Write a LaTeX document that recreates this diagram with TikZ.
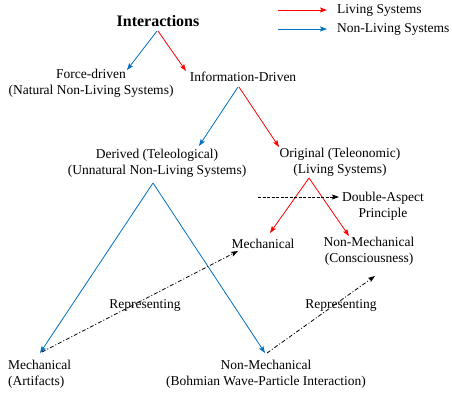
\documentclass[tikz,border=0pt]{standalone}
\usepackage{fontspec}
\setmainfont{Liberation Serif}
\usetikzlibrary{arrows.meta,calc}
\definecolor{lred}{RGB}{255,0,0}
\definecolor{lblue}{RGB}{0,112,192}
\begin{document}
\begin{tikzpicture}[x=1pt,y=-1pt,
  lbl/.style={font=\fontsize{13.5}{16}\selectfont, align=center, inner sep=0pt},
  tip/.style={-{Stealth[length=7pt,width=5pt,inset=1.5pt]}},
  liv/.style={tip, lred, line width=0.8pt},
  nonliv/.style={tip, lblue, line width=0.8pt},
  rep/.style={tip, black, line width=0.8pt, dash pattern=on 4pt off 2pt on 1pt off 2pt},
  aspect/.style={tip, black, line width=0.7pt, dash pattern=on 3pt off 1.5pt}]
\useasboundingbox (0,0) rectangle (452,396);
% nodes
\node[lbl, font=\fontsize{16}{19}\selectfont\bfseries] (inter) at (158,21) {Interactions};
\node[lbl] (force) at (91,83) {Force-driven\\(Natural Non-Living Systems)};
\node[lbl] (info) at (243,77) {Information-Driven};
\node[lbl] (derived) at (157,163) {Derived (Teleological)\\(Unnatural Non-Living Systems)};
\node[lbl] (orig) at (340,162) {Original (Teleonomic)\\(Living Systems)};
\node[lbl] (dap) at (383,206) {Double-Aspect\\Principle};
\node[lbl] (mech) at (263,244) {Mechanical};
\node[lbl] (nonmech) at (369,251) {Non-Mechanical\\(Consciousness)};
\node[lbl, align=left, anchor=west] (art) at (8,374) {Mechanical\\(Artifacts)};
\node[lbl] (bohm) at (266,374) {Non-Mechanical\\(Bohmian Wave-Particle Interaction)};
\node[lbl] (rep1) at (145,305) {Representing};
\node[lbl] (rep2) at (341,305) {Representing};
\node[lbl, anchor=west] (lgliv) at (337,10) {Living Systems};
\node[lbl, anchor=west] (lgnon) at (337,29) {Non-Living Systems};
% legend
\coordinate (lgs1) at (278,10);
\coordinate (lgs2) at (278,29);
\draw[liv] (lgs1) -- ($(lgliv.west)+(-10,0)$);
\draw[nonliv] (lgs2) -- ($(lgnon.west)+(-10,0)$);
% tree
\draw[nonliv] ($(inter)+(-1,10)$) -- ($(force)+(36,-13)$);
\draw[liv] ($(inter)+(0,10)$) -- ($(info)+(-57,-6)$);
\draw[nonliv] ($(info)+(-5,10)$) -- ($(derived)+(42,-17)$);
\draw[liv] ($(info)+(-4,10)$) -- ($(orig)+(-61,-15)$);
\draw[liv] ($(orig)+(-31,16)$) -- ($(mech)+(7,-11)$);
\draw[liv] ($(orig)+(-31,16)$) -- ($(nonmech)+(-20,-15)$);
\draw[nonliv] ($(derived)+(-4,20)$) -- ($(art.west)+(32,-21)$);
\draw[nonliv] ($(derived)+(-4,20)$) -- ($(bohm)+(-1,-21)$);
% representing
\draw[rep] ($(art.west)+(34,-22)$) -- ($(mech)+(-25,7)$);
\draw[rep] ($(bohm)+(1,-21)$) -- ($(nonmech)+(6,25)$);
% double aspect
\coordinate (dash0) at (258,197);
\draw[aspect] (dash0) -- ($(dap.west)+(-3,-9)$);
\end{tikzpicture}
\end{document}
